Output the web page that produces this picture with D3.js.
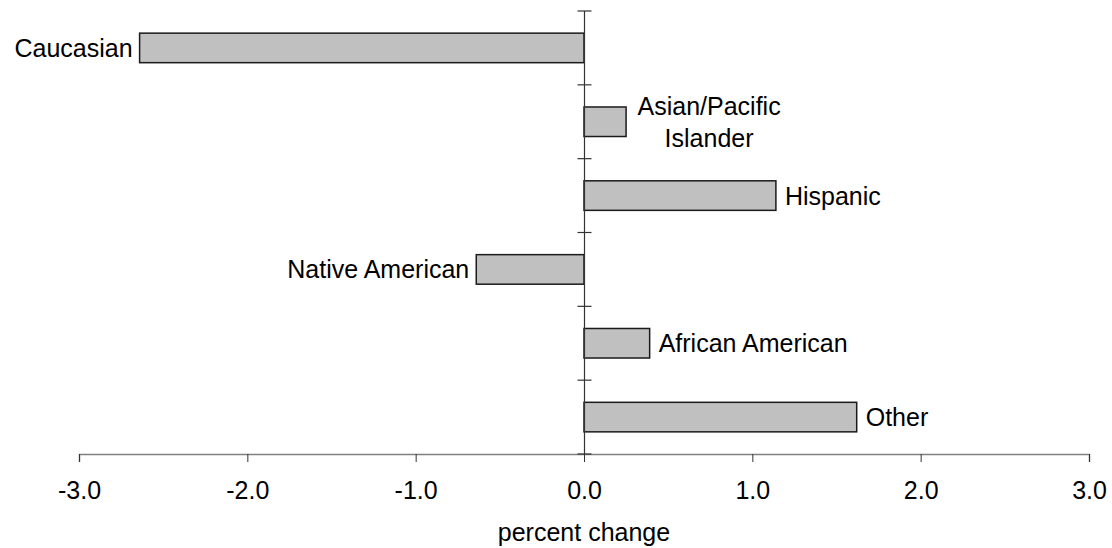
<!DOCTYPE html>
<html><head><meta charset="utf-8">
<script src="https://cdn.jsdelivr.net/npm/d3@7"></script>
<style>body{margin:0;background:#fff}svg{display:block}text{font-family:"Liberation Sans",Arial,sans-serif;fill:#000}</style>
</head><body><svg id="c" width="1112" height="548"></svg>
<script>
const categories = ["Caucasian","Asian/Pacific Islander","Hispanic","Native American","African American","Other"];
const labelLines = [["Caucasian"],["Asian/Pacific","Islander"],["Hispanic"],["Native American"],["African American"],["Other"]];
const values = [-2.64, 0.25, 1.14, -0.64, 0.39, 1.62];
const xTicks = [-3,-2,-1,0,1,2,3];
const xTitle = "percent change";

const svg = d3.select("#c");
const x = d3.scaleLinear().domain([-3,3]).range([79,1089]);
const y = d3.scaleBand().domain(categories).range([11,454]).paddingInner(0.6).paddingOuter(0.3);
const FS = 25;

// x axis
const xa = svg.append("g").attr("transform","translate(0,454)")
  .call(d3.axisBottom(x).tickValues(xTicks).tickFormat(d=>d.toFixed(1)).tickSize(8).tickPadding(19));
xa.select(".domain").attr("stroke","#808080").attr("stroke-width",1.5);
xa.selectAll(".tick line").attr("stroke","#333").attr("stroke-width",1);
xa.selectAll(".tick text").attr("font-size",FS).attr("font-family","Liberation Sans, Arial, sans-serif").attr("fill","#000");

// bars
svg.append("g").selectAll("rect").data(categories).join("rect")
  .attr("x",(d,i)=>Math.min(x(0),x(values[i])))
  .attr("width",(d,i)=>Math.abs(x(values[i])-x(0)))
  .attr("y",d=>y(d))
  .attr("height",y.bandwidth())
  .attr("fill","#c0c0c0").attr("stroke","#1a1a1a").attr("stroke-width",1.5);

// vertical axis
const x0 = Math.round(x(0))+0.5;
const yr = y.range();
svg.append("line").attr("x1",x0).attr("x2",x0).attr("y1",yr[0]).attr("y2",yr[1]).attr("stroke","#333").attr("stroke-width",1.2);
const bounds = d3.range(categories.length+1).map(i=>yr[0]+i*y.step());
svg.append("g").selectAll("line").data(bounds).join("line")
  .attr("x1",x0-7).attr("x2",x0+7).attr("y1",d=>d).attr("y2",d=>d)
  .attr("stroke","#333").attr("stroke-width",1.2);

// labels
svg.append("g").selectAll("text").data(categories).join("text")
  .attr("font-size",FS)
  .attr("text-anchor",(d,i)=>values[i]<0?"end":(labelLines[i].length>1?"middle":"start"))
  .each(function(d,i){
    const t = d3.select(this);
    const lines = labelLines[i];
    const cy = y(d)+y.bandwidth()/2;
    const lh = 31.5;
    let xx = values[i]<0 ? x(values[i])-7 : x(values[i])+9;
    if(lines.length>1){ xx = x(values[i])+83; }
    lines.forEach((ln,k)=>{
      t.append("tspan").attr("x",xx).attr("y",cy+9+(k-(lines.length-1)/2)*lh).text(ln);
    });
  });

svg.append("text").attr("x",x(0)).attr("y",541).attr("text-anchor","middle").attr("font-size",FS).text(xTitle);
</script></body></html>
